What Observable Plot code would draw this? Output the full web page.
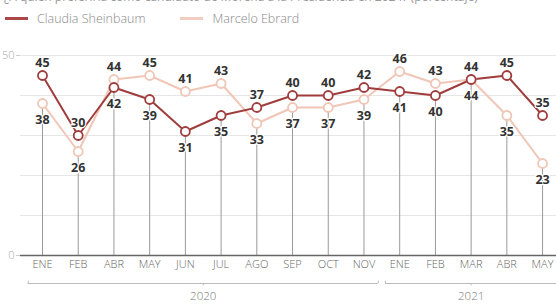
<!DOCTYPE html>
<html><head><meta charset="utf-8">
<script src="https://cdn.jsdelivr.net/npm/d3@7"></script>
<script src="https://cdn.jsdelivr.net/npm/@observablehq/plot@0.6"></script>
<style>
body{margin:0;background:#fff;font-family:"Open Sans",sans-serif;width:556px;height:304px;overflow:hidden;position:relative}
#sub{position:absolute;left:4px;top:-12px;font-size:12px;color:#999;white-space:nowrap}
#legend{position:absolute;left:5px;top:10px;height:16px;display:flex;align-items:center;font-size:12.5px;color:#888;font-weight:300}
.sw{display:inline-block;width:23px;height:3px;margin-right:9px}
#chart{position:absolute;left:0;top:30px}
</style></head><body>
<div id="sub">¿A quién preferiría como candidato de Morena a la Presidencia en 2024? (porcentaje)</div>
<div id="legend"><span class="sw" style="background:#a9474a"></span><span style="margin-right:35px">Claudia Sheinbaum</span><span class="sw" style="background:#f1cdbf"></span><span>Marcelo Ebrard</span></div>
<div id="chart"></div>
<script>
const months = ["ENE","FEB","ABR","MAY","JUN","JUL","AGO","SEP","OCT","NOV","ENE","FEB","MAR","ABR","MAY"];
const claudia = [45,30,42,39,31,35,37,40,40,42,41,40,44,45,35];
const marcelo = [38,26,44,45,41,43,33,37,37,39,46,43,44,35,23];
const years = [{label:"2020", start:0, end:9},{label:"2021", start:10, end:14}];
const yTicks = [0,50];
const grid = [10,20,30,40,50];

const cColor = "#9f3d3d", mColor = "#f0c6b6";
const rows = months.map((m,i)=>({i, m, c: claudia[i], mv: marcelo[i]}));
const cData = rows.map(d=>({i:d.i, v:d.c, above: d.c >= d.mv}));
const mData = rows.map(d=>({i:d.i, v:d.mv, above: d.mv > d.c}));

const labelOpts = (data, above) => Plot.text(data.filter(d=>d.above===above), {
  x:"i", y:"v", text:d=>String(d.v), dy: above ? -13 : 16,
  fontSize:12.5, fontWeight:700, fill:"#333", stroke:"white", strokeWidth:2.5, paintOrder:"stroke"
});
const bracketY = -7; // below the baseline, in value units (4px per unit)
const ends = years.flatMap(d=>[d.start-0.4, d.end+0.4]);

const chart = Plot.plot({
  width:556, height:274, marginLeft:20, marginRight:0, marginTop:25, marginBottom:49,
  style:{fontFamily:"'Open Sans',sans-serif", background:"transparent", overflow:"visible"},
  x:{type:"linear", domain:[-0.616,14.39], axis:null},
  y:{type:"linear", domain:[0,50], axis:null},
  marks:[
    Plot.ruleY(grid, {stroke:"#e6e6e6", strokeWidth:1}),
    Plot.axisY(yTicks, {label:null, tickSize:4, tickPadding:2, stroke:"#ccc", fill:"#aaa", fontSize:11, fontWeight:300}),
    Plot.ruleX(rows, {x:"i", y1:0, y2:d=>Math.min(d.c,d.mv), stroke:"#999", strokeWidth:1}),
    Plot.ruleY([0], {stroke:"#666", strokeWidth:1.5}),
    Plot.line(mData, {x:"i", y:"v", stroke:mColor, strokeWidth:2}),
    Plot.line(cData, {x:"i", y:"v", stroke:cColor, strokeWidth:2}),
    Plot.dot(mData, {x:"i", y:"v", r:4.5, fill:"white", stroke:mColor, strokeWidth:1.8}),
    Plot.dot(cData, {x:"i", y:"v", r:4.5, fill:"white", stroke:cColor, strokeWidth:1.8}),
    labelOpts(cData,true), labelOpts(cData,false),
    labelOpts(mData,true), labelOpts(mData,false),
    Plot.text(rows, {x:"i", y:0, text:"m", dy:9, lineAnchor:"middle", fontSize:11, fill:"#666", fontWeight:300}),
    Plot.ruleY(years, {y:bracketY, x1:d=>d.start-0.4, x2:d=>d.end+0.4, stroke:"#bbb", strokeWidth:1}),
    Plot.ruleX(ends, {x:d=>d, y1:bracketY, y2:bracketY+0.6, stroke:"#bbb", strokeWidth:1}),
    Plot.ruleX(years, {x:d=>(d.start+d.end)/2, y1:bracketY, y2:bracketY-0.6, stroke:"#bbb", strokeWidth:1}),
    Plot.text(years, {x:d=>(d.start+d.end)/2, y:0, text:"label", dy:41, lineAnchor:"middle", fontSize:11.5, fill:"#777", fontWeight:300})
  ]
});
document.getElementById("chart").appendChild(chart);
</script>
</body></html>
